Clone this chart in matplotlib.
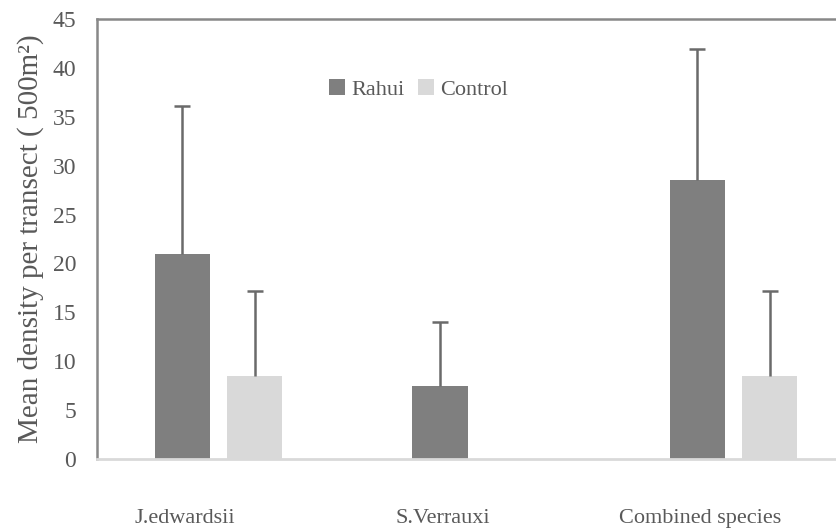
import matplotlib
matplotlib.use("Agg")
from matplotlib import pyplot as plt
import numpy as np

plt.rcParams['font.family'] = ['Liberation Serif', 'DejaVu Serif']

species = ["J.edwardsii", "S.Verrauxi", "Combined species"]
rahui = [21, 7.5, 28.5]
rahui_err = [15.1, 6.5, 13.4]
control = [8.5, 0, 8.5]
control_err = [8.7, 0, 8.7]

text_col = "#595959"
err_col = "#6a6a6a"

fig = plt.figure(figsize=(8.37, 5.31), dpi=100)
ax = fig.add_axes([97 / 837, 72 / 531, 740 / 837, 440 / 531])

x = np.arange(len(species))
w = 0.215
xr = x - 0.01
xc = x + 0.27
ax.bar(xr, rahui, w, color="#7f7f7f", label="Rahui", zorder=2)
ax.bar(xc, control, w, color="#d9d9d9", label="Control", zorder=2)

# plus-only error bars: a stem from the bar top and a cap at the end
def upper_err(xs, vals, errs):
    xs = np.asarray(xs)
    vals = np.asarray(vals, dtype=float)
    errs = np.asarray(errs, dtype=float)
    keep = vals > 0
    ax.vlines(xs[keep], vals[keep], (vals + errs)[keep], color=err_col, lw=1.8, zorder=3)
    ax.plot(xs[keep], (vals + errs)[keep], ls="none", marker="_", ms=12,
            mew=1.8, color=err_col, zorder=3)

upper_err(xr, rahui, rahui_err)
upper_err(xc, control, control_err)

ax.set_ylim(0, 45)
ax.set_yticks(np.arange(0, 46, 5))
ax.set_xlim(-0.342, 2.532)
ax.set_xticks(x)
ax.set_xticklabels(species)
ax.tick_params(axis="both", length=0, labelsize=16, labelcolor=text_col)
ax.tick_params(axis="y", labelsize=17, pad=15)
ax.tick_params(axis="x", pad=36)

for side in ["left", "top"]:
    ax.spines[side].set_color("#888888")
    ax.spines[side].set_linewidth(1.8)
ax.spines["bottom"].set_color("#d9d9d9")
ax.spines["bottom"].set_linewidth(2)
ax.spines["right"].set_visible(False)

ax.set_ylabel("Mean density per transect ( 500m²)", fontsize=21, color=text_col, labelpad=6)

ax.legend(loc="center", bbox_to_anchor=(0.435, 0.84), ncol=2, frameon=False,
          fontsize=16, labelcolor=text_col, handlelength=0.7, handleheight=0.7,
          handletextpad=0.3, columnspacing=0.6)

fig.savefig("out.png", dpi=100)
